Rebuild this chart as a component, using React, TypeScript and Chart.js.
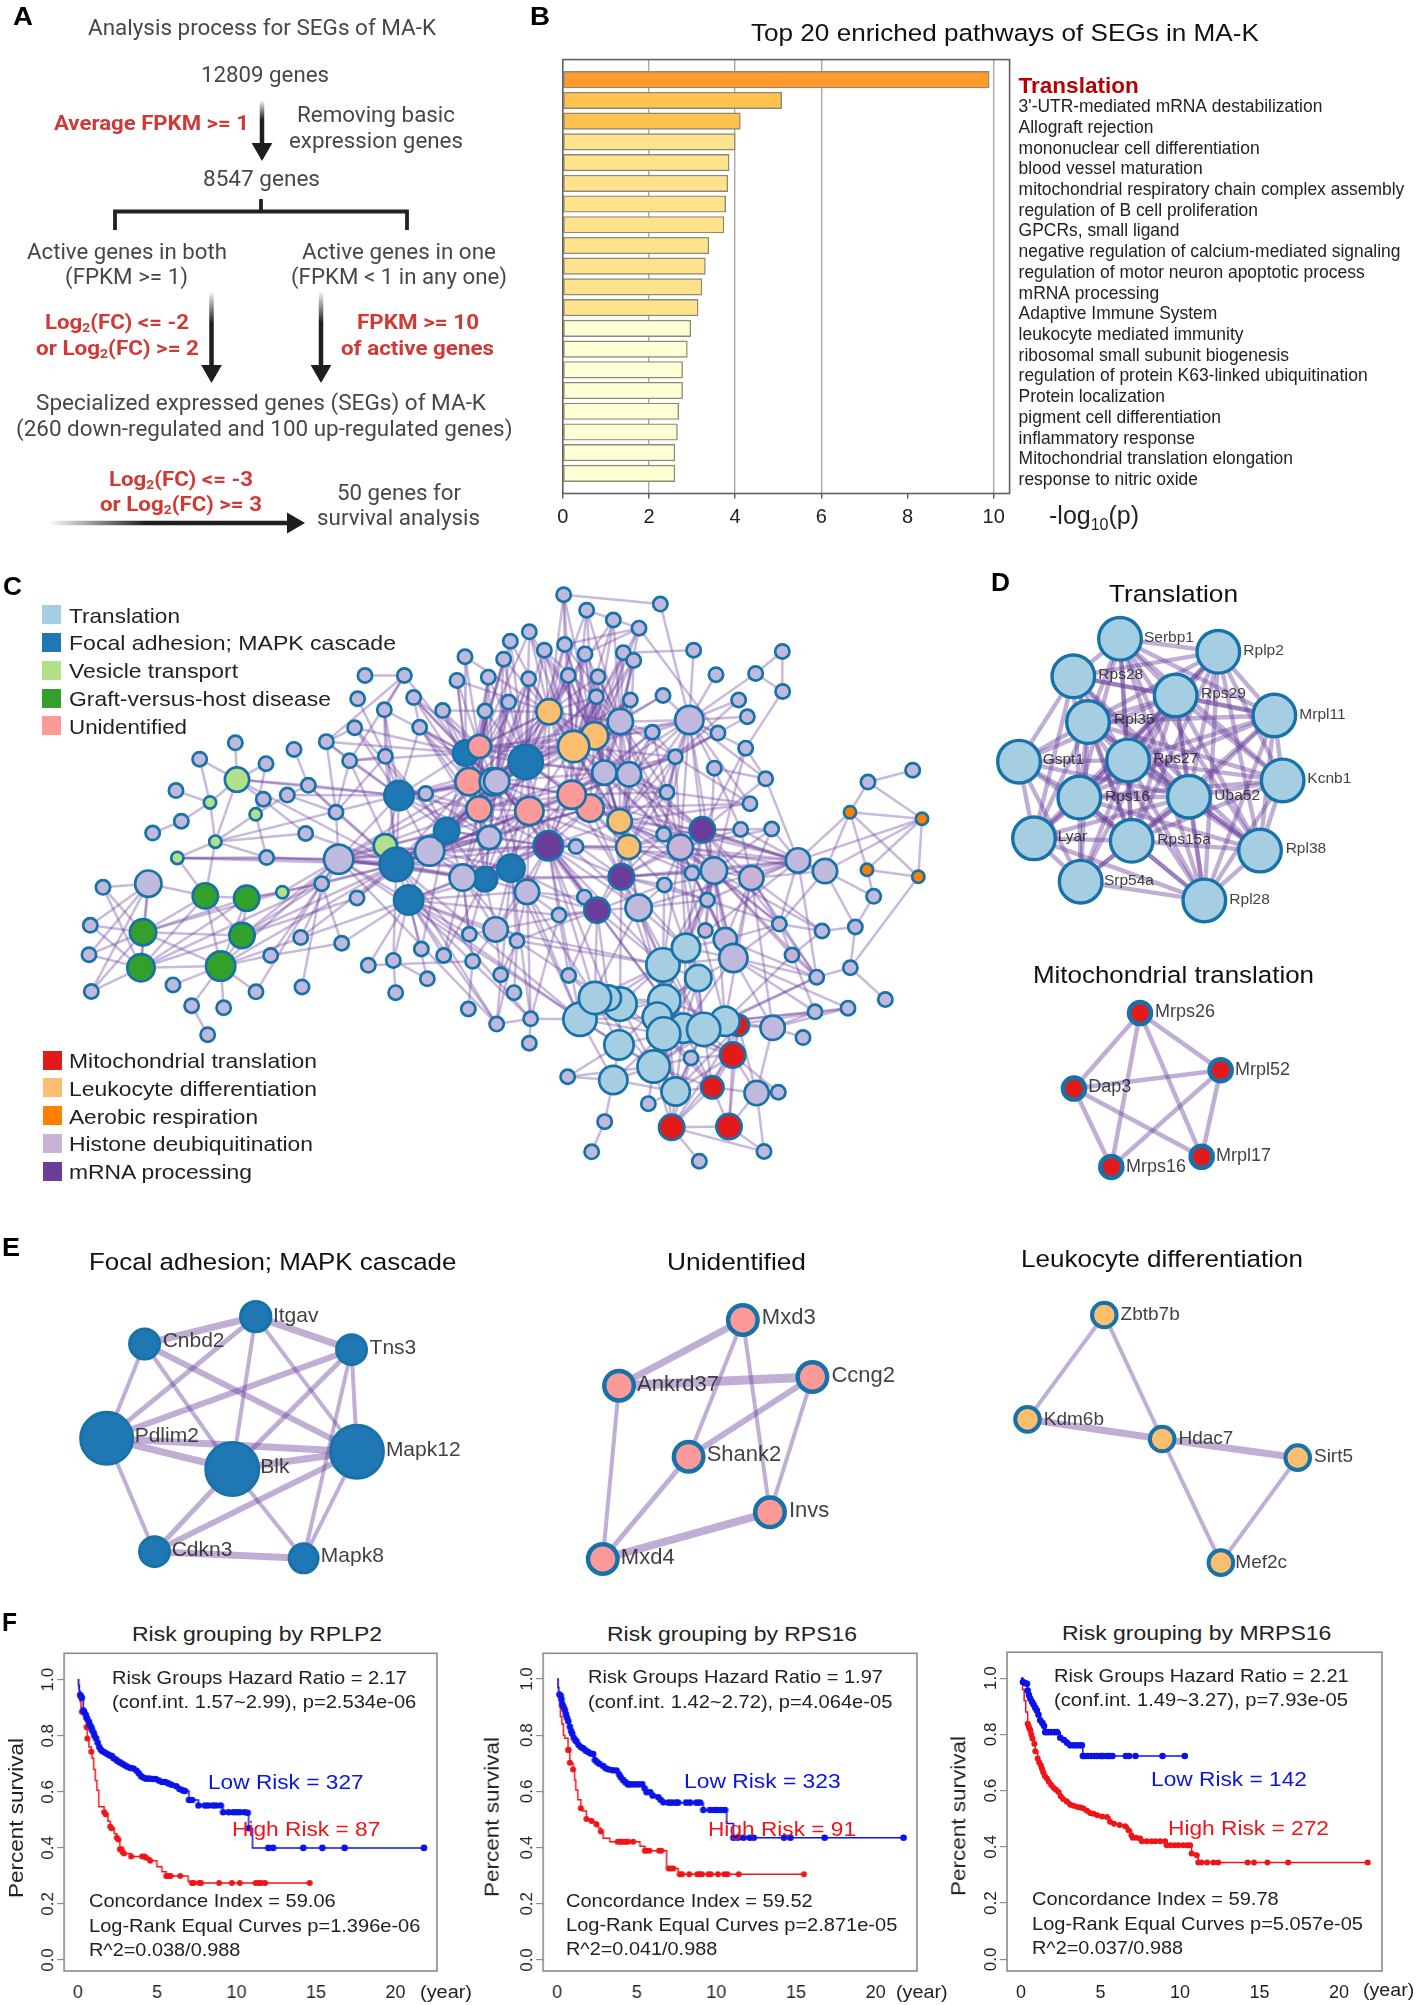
import React, { useEffect, useLayoutEffect, useRef } from 'react';
import { Chart, registerables } from 'chart.js';
Chart.register(...registerables);

const SANS = '"Liberation Sans"';
const ROBOTO = 'Roboto';
Chart.defaults.font.family = SANS;

/* ---------- Panel A ---------- */
const flowGrey: [string, number, number, number][] = [
  ['Analysis process for SEGs of MA-K', 88, 436, 28],
  ['12809 genes', 201, 329, 75],
  ['Removing basic', 297, 455, 115],
  ['expression genes', 289, 463, 141],
  ['8547 genes', 203, 320, 179],
  ['Active genes in both', 27, 227, 252],
  ['(FPKM >= 1)', 65, 188, 277],
  ['Active genes in one', 302, 496, 252],
  ['(FPKM < 1 in any one)', 291, 507, 277],
  ['Specialized expressed genes (SEGs) of MA-K', 36, 486, 403],
  ['(260 down-regulated and 100 up-regulated genes)', 15.5, 512, 429],
  ['50 genes for', 337, 461, 493],
  ['survival analysis', 317, 480, 518],
];
const flowRed: [string, number, number, number][] = [
  ['Average FPKM >= 1', 54, 249, 123],
  ['Log₂(FC) <= -2', 45, 189, 322],
  ['or Log₂(FC) >= 2', 36, 199, 348],
  ['FPKM >= 10', 357, 479, 322],
  ['of active genes', 341, 494, 348],
  ['Log₂(FC) <= -3', 109, 253, 479],
  ['or Log₂(FC) >= 3', 100, 262, 504],
];
const flowArrows: [number, number, number, number, number][] = [
  [262, 100, 262, 149, 180],
  [211.5, 291, 211.5, 371, 180],
  [321, 291, 321, 371, 180],
  [48, 523, 293, 523, 90],
];
const flowBrackets: [number, number][][] = [
  [[115, 230], [115, 211.5], [407, 211.5], [407, 230]],
  [[261, 199], [261, 211.5]],
];

/* ---------- Panel B ---------- */
const bPathways = [
  'Translation', "3'-UTR-mediated mRNA destabilization", 'Allograft rejection', 'mononuclear cell differentiation',
  'blood vessel maturation', 'mitochondrial respiratory chain complex assembly', 'regulation of B cell proliferation',
  'GPCRs, small ligand', 'negative regulation of calcium-mediated signaling', 'regulation of motor neuron apoptotic process',
  'mRNA processing', 'Adaptive Immune System', 'leukocyte mediated immunity', 'ribosomal small subunit biogenesis',
  'regulation of protein K63-linked ubiquitination', 'Protein localization', 'pigment cell differentiation',
  'inflammatory response', 'Mitochondrial translation elongation', 'response to nitric oxide',
];
const bValues = [9.895, 5.08, 4.12, 4.0, 3.86, 3.83, 3.78, 3.74, 3.39, 3.31, 3.23, 3.14, 2.97, 2.89, 2.78, 2.78, 2.69, 2.66, 2.6, 2.6];
const bColors = ['#ff9a2e', '#ffc24f', '#ffc24f', '#ffe38c', '#ffe38c', '#ffe38c', '#ffe38c', '#ffe38c', '#ffe38c', '#ffe38c', '#ffe38c', '#ffe38c',
  '#ffffd6', '#ffffd6', '#ffffd6', '#ffffd6', '#ffffd6', '#ffffd6', '#ffffd6', '#ffffd6'];

/* ---------- Panel C ---------- */
const GROUP: Record<string, string> = {
  H: '#bfbadd', P: '#cab2d6', T: '#a6cee3', F: '#1f78b4', V: '#b2df8a', G: '#33a02c',
  U: '#fb9a99', M: '#e31a1c', L: '#fdbf6f', A: '#ff7f00', R: '#6a3d9a',
};
type N = [number, number, number?, string?];
const cLeftNodes: N[] = [
  [1095, 283], [1213, 283], [1371, 295], [1073, 340], [1241, 337], [1153, 367], [1328, 369], [1064, 411], [1259, 410], [979, 445],
  [1156, 481], [1049, 492], [706, 448], [599, 488], [882, 464], [798, 499], [528, 565], [925, 552], [790, 586], [862, 576],
  [1277, 572], [1008, 618], [544, 640], [458, 669], [917, 670], [800, 729], [309, 802], [965, 793], [1071, 828], [271, 895],
  [267, 967], [274, 1057], [519, 1041], [575, 1092], [671, 1097], [623, 1163], [768, 1058], [906, 1046], [812, 969], [902, 925],
  [1025, 939], [1105, 993], [1180, 981], [1264, 953], [1331, 969], [1408, 917], [1418, 983], [1282, 1026], [1187, 1060], [1405, 1100],
  [1395, 237],
  [630, 594, 7.5, 'V'], [767, 623, 7.5, 'V'], [646, 690, 7.5, 'V'], [532, 730, 7.5, 'V'], [847, 814, 7.5, 'V'],
  [711, 538, 13.5, 'V'], [1016, 733, 16, 'H'], [1156, 700, 13, 'V'], [1189, 746, 18, 'F'], [1197, 577, 16, 'F'],
  [1289, 713, 16, 'H'], [1340, 663, 14, 'F'], [1397, 473, 14, 'F'], [1438, 457, 13, 'U'], [1407, 543, 15, 'U'],
  [1480, 543, 15, 'H'], [1437, 610, 14, 'U'], [1468, 680, 13, 'H'], [1455, 782, 13.5, 'F'], [1388, 778, 14.5, 'H'],
  [1226, 833, 16, 'F'], [445, 793, 14.5, 'H'], [616, 823, 14, 'G'], [740, 829, 14, 'G'], [429, 912, 14.5, 'G'],
  [726, 920, 14, 'G'], [423, 999, 15, 'G'], [662, 995, 16, 'G'],
];
const cRightNodes: N[] = [
  [251, 85], [541, 108], [320, 123], [400, 147], [148, 176], [91, 199], [477, 167], [193, 221], [254, 207], [315, 230],
  [430, 227], [461, 246], [71, 243], [641, 221], [25, 287], [146, 291], [265, 283], [354, 286], [708, 281], [827, 278],
  [907, 224], [908, 322], [349, 335], [86, 348], [15, 370], [451, 343], [549, 332], [776, 343], [802, 384], [517, 422],
  [714, 424], [797, 461], [586, 482], [703, 510], [857, 536], [561, 569], [810, 597], [551, 672], [782, 660], [875, 659],
  [288, 702], [636, 767], [553, 796], [682, 833], [237, 870], [313, 826], [111, 933], [898, 892], [1026, 909], [676, 908, 8.5, 'P'],
  [936, 968, 8.5, 'P'], [62, 1016], [266, 1018], [102, 1060], [50, 1137], [152, 1124], [148, 1184], [1010, 1022], [1126, 899], [1111, 999],
  [1005, 1107], [1104, 1098], [1216, 1077], [969, 1170], [1181, 824], [263, 1266], [633, 1220], [895, 1304], [505, 1332], [374, 1376],
  [335, 1450], [658, 1473], [852, 1449], [1164, 544], [1298, 515],
  [1110, 618, 7.5, 'A'], [1326, 634, 7.5, 'A'], [1161, 759, 7.5, 'A'], [1315, 776, 7.5, 'A'],
  [207, 372, 14, 'L'], [344, 431, 15, 'L'], [281, 457, 17, 'L'], [421, 396, 14, 'H'], [628, 392, 15.5, 'H'],
  [137, 495, 18.5, 'F'], [50, 542, 14, 'H'], [373, 521, 13.5, 'H'], [447, 525, 13.5, 'H'], [330, 608, 15, 'U'],
  [275, 575, 15.5, 'U'], [148, 615, 15.5, 'U'], [419, 640, 13.5, 'L'], [445, 703, 13.5, 'L'], [205, 700, 16, 'R'],
  [93, 755, 15, 'F'], [141, 813, 13.5, 'H'], [424, 776, 14, 'R'], [351, 858, 14, 'R'], [476, 852, 14.5, 'H'],
  [47, 905, 13.5, 'H'], [667, 661, 14, 'R'], [601, 704, 14, 'P'], [702, 761, 14.5, 'H'], [814, 779, 13.5, 'P'],
  [954, 736, 13.5, 'H'], [1035, 762, 13.5, 'H'], [736, 930, 13, 'H'], [760, 975, 15.5, 'H'], [549, 992, 18, 'T'],
  [618, 950, 15.5, 'T'], [655, 1024, 14.5, 'T'], [300, 1125, 18, 'T'], [420, 1088, 18, 'T'], [385, 1073, 14, 'T'],
  [345, 1073, 17.5, 'T'], [553, 1080, 17.5, 'T'], [532, 1120, 16, 'T'], [775, 1140, 12, 'M'], [735, 1130, 16, 'T'],
  [610, 1147, 16, 'T'], [671, 1150, 18, 'T'], [551, 1161, 18, 'T'], [878, 1146, 13.5, 'H'], [758, 1213, 14, 'M'],
  [417, 1188, 16, 'T'], [521, 1241, 17.5, 'T'], [400, 1274, 15.5, 'T'], [587, 1302, 15.5, 'T'], [697, 1292, 12.5, 'M'],
  [830, 1306, 13.5, 'H'], [575, 1390, 14, 'M'], [747, 1388, 14, 'M'],
];
const cEdgeFans: number[][] = [
  [72, 26, 29, 30, 31, 75, 77, 73], [75, 26, 29, 30, 31, 73, 74, 76, 77, 78, 55], [77, 26, 29, 30, 31, 73, 74, 76, 78, 27],
  [73, 74, 76, 78, 54, 53], [74, 55, 76, 78, 27], [76, 78, 27, 57, 59, 28], [78, 32, 33, 34, 36, 38, 57, 59, 71], [33, 35], [36, 27], [38, 40, 57], [37, 27], [39, 59, 57], [40, 71, 27],
  [56, 12, 13, 15, 51, 53, 17, 60, 59, 24], [51, 13, 16, 53, 22], [22, 23], [52, 18, 25, 19, 15], [53, 24, 54, 25, 60, 52], [54, 25, 57, 59], [25, 57, 59], [24, 59], [55, 59, 57], [27, 57, 59], [28, 59, 62],
  [14, 17], [17, 60, 19, 21, 59], [19, 21, 60], [21, 59, 57, 10, 11, 9], [9, 11, 60, 1, 63, 7], [11, 59, 60, 10, 63], [10, 60, 59, 62, 5, 3], [7, 60, 62, 63], [5, 60, 63, 59, 1], [0, 1], [1, 63, 11], [4, 63, 8, 65], [8, 60, 63, 65, 67], [6, 63, 64, 65], [2, 64, 63, 65], [50, 64, 63], [20, 60, 62, 65, 67],
  [41, 71, 46], [42, 71, 48, 59], [43, 71, 62], [44, 69, 70, 71], [45, 71, 69, 70, 178], [46, 70, 178, 49], [47, 71, 42], [59, 133, 190, 134], [71, 133, 190, 178], [57, 133, 190],
  [59, 60, 61, 62, 65, 67, 68, 69, 70, 71, 163, 164, 167, 169, 172, 173, 57, 58], [58, 60, 61, 62], [57, 58, 60, 61, 62, 65, 67, 68, 69, 70, 164],
  [60, 61, 62, 63, 65, 67, 68], [61, 62, 65, 66, 67, 68, 69, 70, 71, 164, 172, 173], [62, 63, 65, 66, 67, 68, 69, 70, 163, 164, 169, 172],
  [63, 64, 65, 66, 67, 163, 158], [64, 65, 66, 67, 163, 159, 158, 160], [65, 66, 67, 68, 69, 163, 164, 169, 160], [66, 67, 68, 163, 164, 169, 168, 165],
  [67, 68, 69, 70, 163, 164, 169, 172, 168], [68, 69, 70, 164, 169, 172, 173, 163, 167], [69, 70, 71, 172, 173, 174, 178, 169], [70, 71, 173, 178, 125], [71, 178, 174, 123],
  [163, 158, 159, 160, 161, 164, 165, 166, 167, 168, 169, 172, 173, 170], [158, 159, 160, 161, 164, 165], [160, 159, 161, 164, 165, 166, 168, 169], [159, 161, 165, 166, 168, 167],
  [161, 165, 166, 162, 108], [165, 166, 167, 168, 169, 170, 171], [166, 167, 168, 170, 171, 111, 114], [164, 168, 169, 172, 173], [168, 167, 169, 170, 171, 172, 175], [167, 169, 170, 171, 172, 175, 180],
  [169, 172, 173, 174, 171], [170, 171, 172, 175, 180, 114], [171, 172, 175, 180, 116, 176], [172, 173, 174, 119, 176, 175, 177, 187, 190], [173, 174, 178, 176, 190], [174, 178, 176, 124, 123, 190],
  [175, 176, 177, 179, 180, 181, 121, 116, 120], [176, 177, 124, 123, 131, 187, 193], [177, 187, 188, 121],
  [83, 158, 163], [84, 163, 158], [86, 158, 160, 163], [87, 158, 160, 163, 159], [88, 158, 160, 163], [79, 158, 87, 80], [81, 160, 158, 85], [82, 160, 159], [85, 87, 159, 88, 109], [89, 160, 159, 92], [90, 159, 160], [91, 163, 164, 158],
  [93, 64, 163, 65], [94, 163, 158, 160], [95, 158, 160, 163, 159], [96, 158, 160, 159], [101, 160, 158, 163, 159], [102, 163, 64, 164], [103, 64, 65, 163], [104, 159, 161, 160, 163], [105, 160, 161, 162], [106, 162, 111], [107, 162, 111],
  [108, 161, 162, 165, 159, 166], [109, 162, 166, 111], [110, 100, 122, 113], [97, 162], [98, 99, 162, 100], [100, 99], [92, 162, 89], [80, 162], [162, 165, 166, 111, 105, 92], [111, 166, 165, 160, 168, 170], [112, 113, 162, 122],
  [114, 166, 168, 170, 171, 180, 165], [115, 170, 114, 167], [116, 171, 180, 179, 170], [117, 179, 183], [118, 183, 179], [119, 172, 171], [120, 180, 181, 179, 122], [121, 122, 175, 177, 180], [122, 128, 181, 187], [123, 176, 172], [124, 176],
  [125, 187, 173, 130, 132, 178], [128, 188, 181], [130, 178], [131, 192, 176, 193], [132, 125], [133, 134], [134, 135, 190, 71], [126, 129, 136, 186, 183, 184], [127, 126, 129, 137], [129, 136, 139], [137, 138, 184, 143], [138, 136, 141], [136, 186, 185], [140, 186, 201], [139, 186], [142, 201], [143, 156, 184],
  [152, 153, 154, 155], [154, 155, 156, 157, 183, 184], [155, 156, 157, 183, 184], [156, 157], [157, 138],
  [183, 184, 181, 126, 179, 182, 180, 167, 168, 172], [184, 126, 182, 137, 143], [179, 180, 181, 182, 171, 170], [180, 181, 182, 171], [181, 182, 188, 185, 186], [182, 126, 186],
  [185, 186, 188, 126], [186, 188, 194, 187, 198, 201],
  [187, 188, 189, 194, 195, 198, 199, 200, 190, 191, 193, 204], [188, 189, 194, 198, 199], [189, 194, 195, 198, 199, 200], [190, 191, 192, 193, 194, 200, 203, 204, 205, 195], [191, 192, 193, 194, 200, 203, 204], [193, 194, 200, 203, 204],
  [194, 195, 197, 198, 199, 200, 203, 204, 206], [195, 197, 198, 199, 200, 204, 206, 202], [197, 198, 199, 200, 196, 202, 204, 201], [198, 199, 200, 204, 206, 196, 202, 207], [199, 200, 204, 206, 196, 202, 207, 145],
  [200, 203, 204, 205, 206, 145, 202, 207, 209], [203, 204, 205, 144], [204, 205, 206, 144, 147, 145, 207, 209], [205, 206, 144, 148], [206, 207, 209, 147, 145, 202, 196],
  [196, 202, 207, 209, 210, 201, 208], [202, 207, 209, 210, 208, 146], [207, 209, 210, 208, 145], [209, 210, 150, 151, 145], [210, 151, 208], [208, 146, 201, 151], [201, 142], [148, 149], [145, 202],
  [180, 187, 188, 197, 199, 186], [179, 186, 188], [181, 187, 194, 197], [182, 197, 201], [175, 187, 188, 194, 191], [177, 190, 194, 199], [176, 192, 194], [172, 192, 193, 194], [174, 193, 134, 133], [173, 133, 134],
  [164, 176, 124, 171, 174], [169, 175, 176, 177], [166, 175, 179, 180, 181], [165, 175, 179, 180], [170, 179, 181, 120, 177], [171, 179, 181, 120, 121, 177], [158, 172, 167, 168, 169, 166, 170], [159, 170, 171, 172, 179, 162], [160, 170, 171, 172, 162, 111, 180], [161, 170, 171, 111, 114, 180, 116],
  [162, 114, 170, 180, 179, 181, 115, 116], [111, 171, 180, 114, 116, 115], [108, 168, 170, 111, 114], [104, 165, 166, 168], [101, 165, 166, 168, 164], [96, 165, 161], [95, 164, 165, 168], [94, 164, 65, 66, 169], [93, 66, 67], [103, 66, 67], [102, 65, 66, 67], [91, 65, 64], [84, 164, 64], [83, 64, 160, 159],
  [86, 159, 161, 164], [87, 161, 165], [88, 159, 161, 165], [81, 159, 161], [82, 158, 161], [89, 161, 165], [90, 161, 165, 166], [79, 160, 159], [85, 160, 161], [63, 159, 160, 161, 164], [65, 158, 161], [67, 158, 159, 160, 165, 166], [2, 158], [6, 158, 66], [50, 158], [8, 66, 68], [4, 64, 66], [20, 68, 66],
  [60, 66, 163, 164], [61, 163, 169, 167], [59, 166, 168], [69, 163, 164, 167, 168, 175], [70, 164, 169, 172, 175], [57, 172, 173, 71], [178, 176, 172, 187], [125, 176, 131], [123, 131, 134], [71, 172, 125, 134],
  [183, 175, 177, 121, 122, 188, 136], [184, 179, 180], [126, 179, 180, 181, 122], [127, 181, 182], [129, 181, 197], [136, 181, 182, 197, 199], [139, 197, 201], [140, 197, 199], [185, 122, 182, 180], [113, 179, 183, 162], [110, 179, 162], [117, 180, 182, 112], [118, 180, 181, 182], [120, 171, 175], [121, 176, 188, 187, 171], [122, 175, 177, 188],
];
const cLegendTop: [string, string, number, number, number][] = [
  ['Translation', GROUP.T, 614.7, 69, 180],
  ['Focal adhesion; MAPK cascade', GROUP.F, 642.4, 69, 396],
  ['Vesicle transport', GROUP.V, 670.2, 69, 238],
  ['Graft-versus-host disease', GROUP.G, 698, 69, 331],
  ['Unidentified', GROUP.U, 725.7, 69, 187],
];
const cLegendBottom: [string, string, number, number, number][] = [
  ['Mitochondrial translation', GROUP.M, 1060, 69, 317],
  ['Leukocyte differentiation', GROUP.L, 1087.8, 69, 317],
  ['Aerobic respiration', GROUP.A, 1115.5, 69, 258],
  ['Histone deubiquitination', GROUP.P, 1143.3, 69, 313],
  ['mRNA processing', GROUP.R, 1171, 69, 252],
];

/* ---------- Panel D ---------- */
type G = [string, number, number, number, number]; // gene, x, y, label x, label y
const dTranslation: G[] = [
  ['Serbp1', 450, 193, 522, 190], ['Rplp2', 745, 225, 820, 222], ['Rps28', 310, 285, 385, 280], ['Rps29', 617, 332, 693, 328],
  ['Mrpl11', 913, 381, 988, 378], ['Rpl35', 354, 397, 432, 392], ['Gspt1', 147, 494, 218, 490], ['Rps27', 474, 491, 550, 488],
  ['Kcnb1', 938, 540, 1012, 537], ['Rps16', 328, 582, 405, 580], ['Uba52', 657, 580, 733, 578], ['Lyar', 192, 682, 263, 678],
  ['Rps15a', 485, 688, 562, 686], ['Rpl38', 870, 712, 947, 708], ['Srp54a', 332, 788, 402, 786], ['Rpl28', 703, 834, 778, 832],
];
const dTranslationFans: number[][] = [
  [0, 1, 2, 3, 4, 5, 7, 9, 10, 12, 13, 15, 8], [1, 2, 3, 4, 5, 7, 8, 9, 10, 12, 13, 15], [2, 3, 4, 5, 6, 7, 9, 10, 11, 12, 13],
  [3, 4, 5, 6, 7, 8, 9, 10, 11, 12, 13, 14, 15], [4, 5, 7, 8, 9, 10, 12, 13, 15], [5, 6, 7, 9, 10, 11, 12, 13, 14, 15, 8],
  [6, 7, 9, 10, 11, 12, 14], [7, 8, 9, 10, 11, 12, 13, 14, 15], [8, 9, 10, 12, 13, 15], [9, 10, 11, 12, 13, 14, 15],
  [10, 11, 12, 13, 14, 15], [11, 12, 14, 15], [12, 13, 14, 15], [13, 15], [14, 15],
];
const dMito: G[] = [
  ['Mrps26', 510, 1110, 555, 1108], ['Mrpl52', 752, 1250, 795, 1250], ['Dap3', 312, 1295, 355, 1292],
  ['Mrpl17', 695, 1462, 738, 1460], ['Mrps16', 424, 1487, 468, 1487],
];
const dMitoFans: number[][] = [[0, 1, 2, 3, 4], [1, 2, 3, 4], [2, 3, 4]];

/* ---------- Panel E ---------- */
const eFocal: (G | [string, number, number, number, number, number])[] = [
  ['Itgav', 283, 260, 302, 260, 16.7], ['Cnbd2', 160, 342, 180, 335, 16.5], ['Tns3', 389, 359, 409, 355, 16.5], ['Pdlim2', 118, 625, 149, 620, 27.5],
  ['Blk', 257, 717, 288, 712, 28], ['Mapk12', 395, 665, 427, 662, 28], ['Cdkn3', 171, 965, 190, 960, 16.5], ['Mapk8', 336, 985, 355, 980, 16],
];
const eFocalEdges: [number, number, number][] = [
  [0, 1, 7], [0, 2, 7], [0, 3, 5], [0, 4, 4], [0, 5, 4], [1, 3, 4], [1, 4, 4], [1, 5, 6], [2, 3, 6], [2, 4, 5], [2, 5, 4], [2, 7, 4],
  [3, 4, 7], [3, 5, 7], [3, 6, 4], [4, 5, 7], [4, 6, 5], [4, 7, 4], [5, 6, 6], [5, 7, 4], [6, 7, 7],
];
const eUnidentified: G[] = [
  ['Mxd3', 822, 270, 843, 265], ['Ankrd37', 685, 467, 705, 465], ['Ccng2', 899, 441, 920, 437],
  ['Shank2', 762, 680, 782, 675], ['Invs', 852, 847, 873, 843], ['Mxd4', 667, 987, 687, 983],
];
const eUnidentifiedEdges: [number, number, number][] = [
  [0, 1, 7], [0, 3, 4], [0, 4, 4], [1, 2, 9], [1, 5, 4], [2, 3, 6], [2, 4, 4], [3, 5, 5], [4, 5, 8],
];
const eLeukocyte: G[] = [
  ['Zbtb7b', 1222, 255, 1240, 253], ['Kdm6b', 1137, 568, 1155, 570], ['Hdac7', 1286, 627, 1304, 625],
  ['Sirt5', 1436, 683, 1454, 680], ['Mef2c', 1351, 998, 1367, 997],
];
const eLeukocyteEdges: [number, number, number][] = [
  [0, 1, 4], [0, 2, 4], [1, 2, 7], [2, 3, 7], [2, 4, 4], [3, 4, 4],
];

/* ---------- Panel F ---------- */
type P = [number, number];
const rplp2Low: P[] = [[0, 1], [.05, .98], [.1, .96], [.15, .945], [.2, .94], [.25, .935], [.35, .89], [.4, .885], [.5, .875], [.55, .865], [.6, .86], [.7, .85], [.75, .84], [.85, .83], [.9, .82], [1, .81], [1.05, .8], [1.15, .79], [1.25, .775], [1.35, .76], [1.45, .75], [1.55, .745], [1.7, .74], [1.85, .735], [2, .73], [2.15, .728], [2.25, .72], [2.4, .715], [2.5, .71], [2.65, .705], [2.8, .7], [2.95, .695], [3.1, .69], [3.3, .685], [3.5, .683], [3.7, .675], [3.85, .665], [4, .655], [4.15, .65], [4.3, .647], [4.5, .647], [4.7, .646], [4.9, .646], [5.1, .64], [5.3, .635], [5.5, .635], [5.7, .63], [5.9, .625], [6.2, .62], [6.4, .61], [6.6, .605], [6.75, .603], [7, .571], [7.2, .571], [7.6, .551], [8, .551], [8.2, .551], [8.5, .551], [8.7, .551], [9, .551], [9.15, .527], [9.5, .527], [9.8, .527], [10, .527], [10.2, .527], [10.5, .527], [10.7, .525], [10.76, .47], [11, .4], [12, .4], [12.3, .4], [14.2, .4], [15.4, .4], [16.8, .4], [21.8, .4]];
const rplp2LowBare = [0, .05, .1, 11];
const rplp2High: P[] = [[0, 1], [.05, .97], [.1, .95], [.15, .92], [.2, .9], [.25, .886], [.32, .886], [.4, .86], [.55, .83], [.6, .79], [.7, .76], [.85, .743], [.9, .72], [1, .68], [1.1, .64], [1.2, .606], [1.32, .547], [1.66, .527], [1.75, .52], [1.9, .495], [2.04, .476], [2.12, .47], [2.3, .45], [2.46, .436], [2.55, .43], [2.65, .395], [2.75, .395], [2.82, .385], [2.9, .38], [3.36, .369], [4.05, .369], [4.2, .369], [4.3, .365], [4.56, .354], [4.98, .333], [5.3, .315], [5.57, .3], [5.7, .3], [5.85, .3], [6.45, .3], [6.95, .28], [7.18, .275], [7.3, .275], [7.65, .275], [7.75, .275], [8.9, .275], [9.7, .275], [10.2, .275], [11.2, .275], [11.4, .275], [11.55, .275], [11.8, .275], [14.6, .275]];
const rplp2HighBare = [0, .05, .1, .15, .2, .4, .7, .9, 1, 1.1, 1.2, 1.32, 1.9, 2.3, 4.98, 5.3, 6.95];
const rps16Low: P[] = [[0, 1], [.05, .97], [.1, .95], [.15, .945], [.22, .94], [.27, .928], [.33, .91], [.4, .9], [.48, .89], [.55, .875], [.62, .862], [.7, .85], [.8, .83], [.88, .815], [.95, .805], [1.05, .79], [1.15, .782], [1.22, .777], [1.35, .765], [1.5, .757], [1.64, .753], [1.8, .745], [1.95, .74], [2.1, .735], [2.26, .733], [2.37, .712], [2.5, .705], [2.65, .698], [2.89, .69], [3.05, .682], [3.25, .678], [3.5, .675], [3.73, .674], [3.9, .66], [4, .65], [4.15, .64], [4.3, .632], [4.45, .625], [4.6, .625], [4.85, .625], [5.1, .625], [5.35, .625], [5.5, .61], [5.62, .597], [5.85, .597], [6, .585], [6.35, .579], [6.5, .57], [6.67, .561], [7, .56], [7.2, .56], [7.45, .56], [7.6, .56], [8.1, .56], [8.35, .56], [8.75, .56], [8.97, .56], [9.18, .534], [9.6, .534], [9.85, .534], [10.05, .534], [10.3, .534], [10.55, .534], [10.65, .486], [10.96, .486], [11.07, .435], [11.35, .435], [11.7, .435], [12.1, .435], [12.35, .435], [14.25, .435], [14.65, .435], [16.8, .435], [21.76, .435]];
const rps16LowBare = [0, .05, .1, 10.65, 10.96];
const rps16High: P[] = [[0, 1], [.05, .97], [.1, .94], [.15, .9], [.21, .866], [.3, .84], [.4, .8], [.48, .789], [.69, .747], [.73, .747], [.8, .702], [.9, .7], [1, .678], [1.1, .64], [1.17, .605], [1.3, .57], [1.49, .54], [1.6, .53], [1.84, .502], [2.16, .495], [2.3, .49], [2.47, .483], [2.6, .47], [2.75, .457], [2.89, .433], [3.31, .421], [3.8, .421], [3.95, .421], [4.05, .421], [4.2, .421], [4.35, .421], [4.45, .421], [4.78, .421], [5.2, .405], [5.51, .389], [5.6, .389], [5.8, .389], [6.4, .389], [6.55, .389], [6.77, .389], [6.88, .332], [7, .326], [7.15, .326], [7.3, .326], [7.6, .305], [7.7, .305], [7.85, .305], [8.3, .305], [8.8, .305], [8.95, .305], [9.1, .305], [9.5, .305], [9.65, .305], [10.1, .305], [10.5, .305], [10.7, .305], [11.4, .305], [15.5, .305]];
const rps16HighBare = [0, .05, .1, .15, .21, .3, .4, .48, .9, 1.1, 1.17, 1.3, 1.6, 2.3, 2.6, 2.89, 3.31, 5.2, 6.77, 6.88, 7.6];
const mrps16Low: P[] = [[0, 1], [.125, .986], [.25, .983], [.38, .98], [.42, .956], [.5, .94], [.59, .927], [.7, .915], [.8, .905], [.9, .895], [1, .885], [1.1, .87], [1.21, .85], [1.35, .84], [1.45, .83], [1.53, .808], [1.7, .808], [1.9, .808], [2.1, .808], [2.26, .808], [2.47, .788], [2.7, .78], [2.9, .77], [3.1, .761], [3.3, .761], [3.5, .761], [3.7, .761], [3.83, .761], [3.89, .723], [4, .723], [4.2, .723], [4.4, .723], [4.6, .723], [4.8, .723], [5, .723], [5.1, .723], [5.2, .723], [5.4, .723], [5.5, .723], [5.6, .723], [5.75, .723], [6.6, .723], [6.8, .723], [7.2, .723], [8.9, .723], [10.3, .723]];
const mrps16LowBare = [0];
const mrps16High: P[] = [[0, 1], [.1, .96], [.2, .92], [.3, .88], [.42, .838], [.48, .83], [.53, .822], [.59, .814], [.65, .8], [.72, .785], [.84, .767], [.9, .74], [1.05, .714], [1.15, .7], [1.25, .69], [1.32, .678], [1.4, .665], [1.5, .652], [1.63, .643], [1.75, .632], [1.9, .62], [2.05, .61], [2.2, .603], [2.36, .595], [2.5, .58], [2.65, .57], [2.89, .56], [3.1, .55], [3.31, .546], [3.55, .542], [3.75, .54], [3.93, .536], [4.15, .528], [4.35, .52], [4.56, .518], [4.8, .512], [5.1, .508], [5.4, .506], [5.6, .489], [5.85, .482], [6.2, .478], [6.55, .473], [6.76, .459], [6.95, .44], [7.03, .432], [7.25, .432], [7.49, .43], [7.6, .42], [7.9, .42], [8.2, .42], [8.45, .42], [8.75, .42], [9.06, .42], [9.16, .406], [9.4, .406], [9.65, .406], [9.9, .406], [10.2, .406], [10.45, .406], [10.63, .406], [10.73, .376], [11.05, .37], [11.15, .344], [11.35, .344], [11.7, .344], [12.1, .344], [12.4, .344], [14.25, .344], [14.65, .344], [15.5, .344], [16.8, .344], [21.8, .344]];
const mrps16HighBare = [0, .1, .2, .3];

const kmPanels = [
  {
    frame: [64, 436.7], yTop: 1653.3, low: rplp2Low, lowBare: rplp2LowBare, high: rplp2High, highBare: rplp2HighBare,
    title: ['Risk grouping by RPLP2', 131.7, 381.7, 1634.3],
    lines: [['Risk Groups Hazard Ratio = 2.17', 111.7, 406.7, 1678.3], ['(conf.int. 1.57~2.99), p=2.534e-06', 111.7, 416, 1702.7],
      ['Concordance Index = 59.06', 89.3, 336, 1901.7], ['Log-Rank Equal Curves p=1.396e-06', 89.3, 420.7, 1926], ['R^2=0.038/0.988', 89.3, 240.7, 1950]],
    lowText: ['Low Risk = 327', 207.7, 363.3, 1782], highText: ['High Risk = 87', 231.7, 380, 1829.3],
    yTitle: [16, 1818], yearText: ['(year)', 420, 472, 1991.7], zero: 77.7, y1: 1679.7, y0: 1960, xPerYear: 15.87,
  },
  {
    frame: [543.3, 916.7], yTop: 1653.3, low: rps16Low, lowBare: rps16LowBare, high: rps16High, highBare: rps16HighBare,
    title: ['Risk grouping by RPS16', 607.3, 857.3, 1634],
    lines: [['Risk Groups Hazard Ratio = 1.97', 588.3, 883.3, 1677.7], ['(conf.int. 1.42~2.72), p=4.064e-05', 588.3, 892.7, 1702],
      ['Concordance Index = 59.52', 566, 812.7, 1901], ['Log-Rank Equal Curves p=2.871e-05', 566, 897.3, 1925.3], ['R^2=0.041/0.988', 566, 717.3, 1949.3]],
    lowText: ['Low Risk = 323', 684, 840.7, 1781.3], highText: ['High Risk = 91', 707.7, 855.7, 1829],
    yTitle: [491.7, 1817], yearText: ['(year)', 896, 947.7, 1991.7], zero: 557.3, y1: 1679, y0: 1960, xPerYear: 15.9,
  },
  {
    frame: [1006.7, 1382.3], yTop: 1651.7, low: mrps16Low, lowBare: mrps16LowBare, high: mrps16High, highBare: mrps16HighBare,
    title: ['Risk grouping by MRPS16', 1061.7, 1331, 1632.7],
    lines: [['Risk Groups Hazard Ratio = 2.21', 1054.3, 1349, 1676], ['(conf.int. 1.49~3.27), p=7.93e-05', 1054.3, 1348.3, 1700.7],
      ['Concordance Index = 59.78', 1032.3, 1279, 1899.3], ['Log-Rank Equal Curves p=5.057e-05', 1032.3, 1363.3, 1924], ['R^2=0.037/0.988', 1032.3, 1183.3, 1948.3]],
    lowText: ['Low Risk = 142', 1150.7, 1306.7, 1779.3], highText: ['High Risk = 272', 1168.3, 1329.3, 1827.7],
    yTitle: [958.3, 1816], yearText: ['(year)', 1362.7, 1414, 1990], zero: 1020.7, y1: 1677.7, y0: 1959.3, xPerYear: 15.93,
  },
];

const panelLetters: [string, number, number, number][] = [
  ['A', 13, 33, 15.5], ['B', 530, 550, 15.5], ['C', 3, 22, 586], ['D', 991, 1010, 581.5], ['E', 2, 20, 1247], ['F', 2, 17, 1621.5],
];
const sectionTitles: [string, number, number, number][] = [
  ['Top 20 enriched pathways of SEGs in MA-K', 750.6, 1258.5, 33],
  ['Translation', 1109, 1238, 594.7],
  ['Mitochondrial translation', 1033, 1314, 975],
  ['Focal adhesion; MAPK cascade', 88.6, 456, 1262],
  ['Unidentified', 667, 806, 1262],
  ['Leukocyte differentiation', 1021, 1303, 1259],
];

/* ---------- helpers ---------- */
function ChartBox({ left, top, width, height, config }: any) {
  const ref = useRef<HTMLCanvasElement>(null);
  useEffect(() => {
    const c = new Chart(ref.current as any, config());
    return () => c.destroy();
  }, []);
  return <canvas ref={ref} width={width} height={height} style={{ position: 'absolute', left, top, width, height }} />;
}

function rich(text: string) {
  const parts = text.split('₂');
  return parts.map((p, i) => (
    <React.Fragment key={i}>
      {p}
      {i < parts.length - 1 && <span style={{ fontSize: '.62em', position: 'relative', top: '.28em', lineHeight: 0 }}>2</span>}
    </React.Fragment>
  ));
}

function T({ text, x, x2, yc, size, color = '#222', weight = 400, family = SANS }: any) {
  const ref = useRef<HTMLDivElement>(null);
  useLayoutEffect(() => {
    const el = ref.current as HTMLDivElement;
    el.style.transform = 'none';
    const w = el.getBoundingClientRect().width;
    el.style.transform = `scaleX(${(x2 - x) / w})`;
  }, []);
  return (
    <div ref={ref} style={{
      position: 'absolute', left: x, top: yc - size / 2, fontSize: size, lineHeight: `${size}px`, color, fontWeight: weight,
      fontFamily: family, whiteSpace: 'pre', transformOrigin: '0 0',
    }}>{rich(text)}</div>
  );
}

function VT({ text, cx, cy, len, size, color = '#222' }: any) {
  const ref = useRef<HTMLDivElement>(null);
  useLayoutEffect(() => {
    const el = ref.current as HTMLDivElement;
    el.style.transform = 'none';
    const w = el.getBoundingClientRect().width;
    el.style.transform = `translate(${cx}px,${cy}px) rotate(-90deg) scaleX(${len / w}) translate(-50%,-50%)`;
  }, []);
  return (
    <div ref={ref} style={{
      position: 'absolute', left: 0, top: 0, fontSize: size, lineHeight: `${size}px`, color, fontFamily: SANS,
      whiteSpace: 'pre', transformOrigin: '0 0',
    }}>{text}</div>
  );
}

const quiet = { legend: { display: false }, tooltip: { enabled: false }, title: { display: false } };

const framePlugin = (color: string, width: number) => ({
  id: 'frame',
  afterDraw(chart: any) {
    const { ctx, chartArea: a } = chart;
    ctx.save();
    ctx.strokeStyle = color;
    ctx.lineWidth = width;
    ctx.strokeRect(a.left, a.top, a.right - a.left, a.bottom - a.top);
    ctx.restore();
  },
});

const hiddenAxis = (max: number, reverse = false) => ({ type: 'linear', display: false, min: 0, max, reverse });

const labelPlugin = (labels: { text: string; x: number; y: number }[], size: number) => ({
  id: 'geneLabels',
  afterDatasetsDraw(chart: any) {
    const { ctx, scales } = chart;
    ctx.save();
    ctx.font = `${size}px ${SANS}`;
    ctx.fillStyle = 'rgba(40,40,40,0.88)';
    ctx.textBaseline = 'middle';
    for (const l of labels) ctx.fillText(l.text, scales.x.getPixelForValue(l.x), scales.y.getPixelForValue(l.y));
    ctx.restore();
  },
});

function networkConfig(opts: any) {
  const { nodes, edges, xMax, yMax, edgeColor = 'rgba(106,61,154,0.36)', labels = [], labelSize = 15 } = opts;
  const nodeSet = {
    type: 'scatter', data: nodes.map((n: any) => ({ x: n.x, y: n.y })),
    pointRadius: nodes.map((n: any) => n.r - n.lw / 2), pointBorderWidth: nodes.map((n: any) => n.lw),
    pointBackgroundColor: nodes.map((n: any) => n.fill), pointBorderColor: nodes.map((n: any) => n.stroke),
    clip: false,
  };
  const edgeSets = edges.map((e: any) => ({
    type: 'line', data: [{ x: nodes[e[0]].x, y: nodes[e[0]].y }, { x: nodes[e[1]].x, y: nodes[e[1]].y }],
    borderColor: edgeColor, borderWidth: e[2], pointRadius: 0, tension: 0, clip: false,
  }));
  return {
    type: 'scatter',
    data: { datasets: [nodeSet, ...edgeSets] },
    options: {
      responsive: false, animation: false, events: [], layout: { padding: 0, autoPadding: false }, plugins: quiet,
      scales: { x: hiddenAxis(xMax), y: hiddenAxis(yMax, true) },
    },
    plugins: [labelPlugin(labels, labelSize)],
  };
}

const fansToEdges = (fans: number[][], w: number) => {
  const seen = new Set<string>();
  const out: [number, number, number][] = [];
  for (const f of fans) for (const b of f.slice(1)) {
    const a = f[0];
    const k = a < b ? `${a}-${b}` : `${b}-${a}`;
    if (a !== b && !seen.has(k)) { seen.add(k); out.push([a, b, w]); }
  }
  return out;
};

const STROKE = '#1672a8';

function cConfig() {
  const toNode = (n: N, dx: number) => {
    const g = n[3] ?? 'H';
    return { x: n[0] + dx, y: n[1], r: n[2] ?? 8.5, fill: GROUP[g], stroke: STROKE, lw: 2.7 };
  };
  const nodes = [...cLeftNodes.map((n) => toNode(n, 0)), ...cRightNodes.map((n) => toNode(n, 1440))];
  return networkConfig({ nodes, edges: fansToEdges(cEdgeFans, 2.5), xMax: 2880, yMax: 1568 });
}

function geneNetwork(list: any[], edges: any[], fill: string, r: number, lw: number, xMax: number, yMax: number, labelSize: number) {
  const nodes = list.map((g) => ({ x: g[1], y: g[2], r: g[5] ?? r, fill, stroke: STROKE, lw }));
  const labels = list.map((g) => ({ text: g[0], x: g[3], y: g[4] }));
  return networkConfig({ nodes, edges, xMax, yMax, labels, labelSize, edgeColor: 'rgba(106,61,154,0.42)' });
}

function flowConfig() {
  const arrows = flowArrows.map((a) => ({
    type: 'line',
    data: [{ x: a[0], y: a[1] }, { x: a[2], y: a[3] }],
    borderWidth: 4.5,
    borderColor: (c: any) => {
      const g = c.chart.ctx.createLinearGradient(a[0], a[1], a[2], a[3]);
      g.addColorStop(0, 'rgba(30,30,30,0)');
      g.addColorStop(0.4, '#1e1e1e');
      g.addColorStop(1, '#1e1e1e');
      return g;
    },
    pointRadius: [0, 12], pointStyle: 'triangle', pointRotation: [0, a[4]],
    pointBackgroundColor: '#1e1e1e', pointBorderColor: '#1e1e1e', pointBorderWidth: 0, tension: 0, clip: false,
  }));
  const brackets = flowBrackets.map((b) => ({
    type: 'line', data: b.map((p) => ({ x: p[0], y: p[1] })), borderColor: '#222', borderWidth: 3.8, pointRadius: 0, tension: 0, clip: false,
  }));
  return {
    type: 'line', data: { datasets: [...arrows, ...brackets] },
    options: {
      responsive: false, animation: false, events: [], layout: { padding: 0, autoPadding: false }, plugins: quiet,
      scales: { x: hiddenAxis(540), y: hiddenAxis(550, true) },
    },
  };
}

function barConfig() {
  return {
    type: 'bar',
    data: {
      datasets: [{
        data: bValues.map((v, i) => ({ x: v, y: i })), backgroundColor: bColors, borderColor: '#8f8a72', borderWidth: 1.4,
        barThickness: 16.5, borderSkipped: false,
      }],
    },
    options: {
      indexAxis: 'y', responsive: false, animation: false, events: [], plugins: quiet,
      layout: { padding: { left: 32.8, top: 19.6, right: 0, bottom: 0 }, autoPadding: false },
      scales: {
        x: {
          type: 'linear', min: 0, max: 10.37, position: 'bottom',
          grid: { color: (c: any) => (c.tick && (c.tick.value === 8 || c.tick.value === 0) ? 'rgba(0,0,0,0)' : '#a9a9a9'), lineWidth: 1.4, tickColor: '#555', tickLength: 5 },
          border: { display: false },
          ticks: { stepSize: 2, includeBounds: false, font: { size: 20 }, color: '#222', padding: 7, maxRotation: 0 },
          afterFit: (s: any) => { s.height = 56.5; },
        },
        y: {
          type: 'linear', min: -0.97, max: 19.97, reverse: true, display: false, offset: false, grid: { offset: false },
        },
        pathways: {
          type: 'linear', min: -1.3, max: 19.64, reverse: true, position: 'right', offset: false,
          grid: { display: false, drawTicks: false }, border: { display: false },
          ticks: {
            stepSize: 1, includeBounds: false, autoSkip: false, padding: 9,
            callback: (v: number) => bPathways[v] ?? '',
            font: (c: any) => (c.tick && c.tick.value === 0 ? { size: 22.5, weight: 'bold' } : { size: 17.45 }),
            color: (c: any) => (c.tick && c.tick.value === 0 ? '#b80000' : '#222'),
          },
          afterFit: (s: any) => { s.width = 407.4; },
        },
      },
    },
    plugins: [framePlugin('#606060', 1.6)],
  };
}

function kmConfig(p: any) {
  const pxPerS = p.y0 - p.y1;
  const bottom = 1971;
  const yMin = -(bottom - p.y0) / pxPerS;
  const yMax = (p.y0 - p.yTop) / pxPerS;
  const xMin = -(p.zero - p.frame[0]) / p.xPerYear;
  const xMax = (p.frame[1] - p.zero) / p.xPerYear;
  const curve = (pts: P[], bare: number[], color: string, r: number) => ({
    type: 'line', data: pts.map((q) => ({ x: q[0], y: q[1] })), stepped: 'before', borderColor: color, borderWidth: 1.5,
    pointRadius: pts.map((q) => (bare.includes(q[0]) ? 0 : r)), pointBackgroundColor: color, pointBorderColor: color, pointBorderWidth: 0,
  });
  return {
    type: 'line',
    data: { datasets: [curve(p.low, p.lowBare, '#0a14e6', 3.3), curve(p.high, p.highBare, '#f01418', 3)] },
    options: {
      responsive: false, animation: false, events: [], plugins: quiet,
      layout: { padding: { left: 0, top: p.yTop - 1645, right: 6, bottom: 0 }, autoPadding: false },
      scales: {
        x: {
          type: 'linear', min: xMin, max: xMax, grid: { display: false, drawTicks: false }, border: { display: false },
          ticks: { stepSize: 5, includeBounds: false, font: { size: 18 }, color: '#222', padding: 11, maxRotation: 0, autoSkip: false },
          afterFit: (s: any) => { s.height = 40; },
        },
        y: {
          type: 'linear', min: yMin, max: yMax,
          grid: { drawOnChartArea: false, color: '#8a8a8a', tickLength: 7, lineWidth: 1.2 }, border: { display: false },
          ticks: {
            stepSize: 0.2, includeBounds: false, font: { size: 17 }, color: '#222', padding: -3, minRotation: 90, maxRotation: 90, crossAlign: 'center',
            callback: (v: number) => v.toFixed(1),
          },
          afterFit: (s: any) => { s.width = 50; },
        },
      },
    },
    plugins: [framePlugin('#8a8a8a', 1.6)],
  };
}

export default function App() {
  return (
    <div style={{ position: 'absolute', left: 0, top: 0, width: 1417, height: 2005, background: '#fff', overflow: 'hidden', filter: 'blur(0.35px)' }}>
      <ChartBox left={0} top={0} width={540} height={550} config={flowConfig} />
      <ChartBox left={530} top={40} width={887} height={510} config={barConfig} />
      <ChartBox left={0} top={560} width={960} height={640} config={cConfig} />
      <ChartBox left={970} top={560} width={447} height={640} config={() => geneNetwork(dTranslation, fansToEdges(dTranslationFans, 4.4), GROUP.T, 23, 3.4, 1341, 1568, 15.5)} />
      <ChartBox left={970} top={560} width={447} height={640} config={() => geneNetwork(dMito, fansToEdges(dMitoFans, 4.5), GROUP.M, 13.3, 4.5, 1341, 1568, 18)} />
      <ChartBox left={0} top={1230} width={1417} height={370} config={() => geneNetwork(eFocal, eFocalEdges, GROUP.F, 16.5, 3, 1568, 1110, 21)} />
      <ChartBox left={0} top={1230} width={1417} height={370} config={() => geneNetwork(eUnidentified, eUnidentifiedEdges, GROUP.U, 17, 4.5, 1568, 1110, 22)} />
      <ChartBox left={0} top={1230} width={1417} height={370} config={() => geneNetwork(eLeukocyte, eLeukocyteEdges, GROUP.L, 14.3, 4, 1568, 1110, 19)} />
      {kmPanels.map((p, i) => {
        const width = p.frame[1] - p.frame[0] + 56;
        return <ChartBox key={i} left={p.frame[0] - 50} top={1645} width={width} height={366} config={() => kmConfig(p)} />;
      })}

      {flowGrey.map((t, i) => <T key={'g' + i} text={t[0]} x={t[1]} x2={t[2]} yc={t[3]} size={22} color="#474747" family={ROBOTO} />)}
      {flowRed.map((t, i) => <T key={'r' + i} text={t[0]} x={t[1]} x2={t[2]} yc={t[3]} size={21} color="#cf3a36" weight={700} family={ROBOTO} />)}

      {panelLetters.map((t, i) => <T key={'l' + i} text={t[0]} x={t[1]} x2={t[2]} yc={t[3]} size={26} color="#000" weight={700} />)}
      {sectionTitles.map((t, i) => <T key={'s' + i} text={t[0]} x={t[1]} x2={t[2]} yc={t[3]} size={24.5} color="#111" />)}

      <div style={{ position: 'absolute', left: 1049, top: 500, fontFamily: SANS, fontSize: 25, lineHeight: '30px', color: '#222', whiteSpace: 'pre' }}>
        -log<span style={{ fontSize: 16, position: 'relative', top: 6, lineHeight: 0 }}>10</span>(p)
      </div>

      {[...cLegendTop, ...cLegendBottom].map((t, i) => (
        <React.Fragment key={'c' + i}>
          <div style={{ position: 'absolute', left: i < 5 ? 41.7 : 42.7, top: t[2] - 9.5, width: 19.5, height: 19, background: t[1] }} />
          <T text={t[0]} x={t[3]} x2={t[4]} yc={t[2] + 0.5} size={21} color="#222" />
        </React.Fragment>
      ))}

      {kmPanels.map((p: any, i) => (
        <React.Fragment key={'k' + i}>
          <T text={p.title[0]} x={p.title[1]} x2={p.title[2]} yc={p.title[3]} size={20} color="#222" />
          {p.lines.map((l: any, j: number) => <T key={j} text={l[0]} x={l[1]} x2={l[2]} yc={l[3]} size={18.5} color="#222" />)}
          <T text={p.lowText[0]} x={p.lowText[1]} x2={p.lowText[2]} yc={p.lowText[3]} size={20} color="#0a14e6" />
          <T text={p.highText[0]} x={p.highText[1]} x2={p.highText[2]} yc={p.highText[3]} size={20} color="#f01418" />
          <T text={p.yearText[0]} x={p.yearText[1]} x2={p.yearText[2]} yc={p.yearText[3]} size={18} color="#222" />
          <VT text="Percent survival" cx={p.yTitle[0]} cy={p.yTitle[1]} len={160} size={20} />
        </React.Fragment>
      ))}
    </div>
  );
}
